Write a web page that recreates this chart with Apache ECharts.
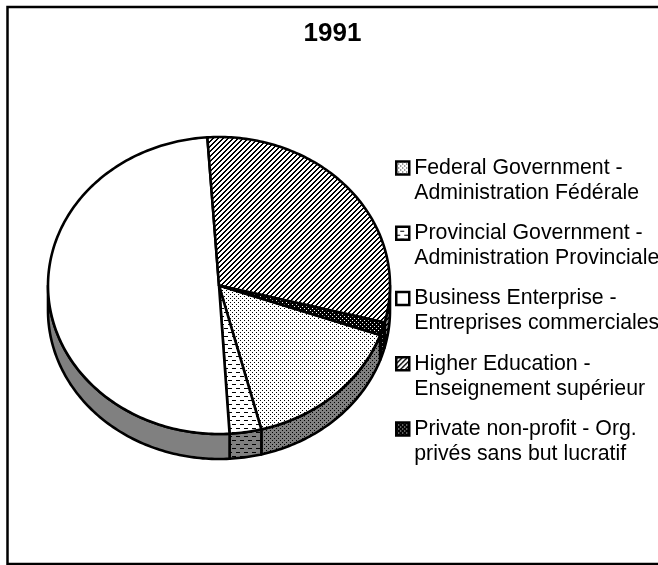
<!DOCTYPE html>
<html><head><meta charset="utf-8">
<style>html,body{margin:0;padding:0;background:#fff;overflow:hidden}#c{width:658px;height:565px}</style>
<script src="https://cdn.jsdelivr.net/npm/echarts@6/dist/echarts.min.js"></script>
</head><body><div id="c"></div>
<script>
const chartTitle = '1991';
const categories = ['Federal Government', 'Provincial Government', 'Business Enterprise', 'Higher Education', 'Private non-profit'];
const legendLine1 = ['Federal Government -', 'Provincial Government -', 'Business Enterprise -', 'Higher Education -', 'Private non-profit - Org.'];
const legendLine2 = ['Administration Fédérale', 'Administration Provinciale', 'Entreprises commerciales', 'Enseignement supérieur', 'privés sans but lucratif'];
const values = [15.6, 3.0, 49.9, 30.1, 1.4];
const startDeg = 19.5;

const CX = 219, CY = 285.5, RX = 171, RY = 148.5, DEPTH = 25, LW = 2.6;

function tile(w, h, bg, cells) {
  const c = document.createElement('canvas'); c.width = w; c.height = h;
  const g = c.getContext('2d'); g.fillStyle = bg; g.fillRect(0, 0, w, h);
  g.fillStyle = '#000';
  for (let y = 0; y < h; y++) for (let x = 0; x < w; x++) if (cells(x, y)) g.fillRect(x, y, 1, 1);
  return { image: c, repeat: 'repeat' };
}
const cellFns = [
  (x, y) => (x % 4 === 0 && y % 4 === 0) || (x % 4 === 2 && y % 4 === 2),
  (x, y) => (y === 0 && x < 4) || (y === 4 && x >= 4),
  () => false,
  (x, y) => (x + y) % 5 < 2,
  (x, y) => !((x % 4 === 0 && y % 4 === 0) || (x % 4 === 2 && y % 4 === 2))
];
const sizes = [[4, 4], [8, 8], [1, 1], [5, 5], [4, 4]];
const topFill = cellFns.map((f, i) => tile(sizes[i][0], sizes[i][1], '#fff', f));
const sideFill = cellFns.map((f, i) => tile(sizes[i][0], sizes[i][1], '#808080', f));

const total = values.reduce((a, b) => a + b, 0);
const spans = [];
values.reduce((acc, v) => { const d = v / total * 360; spans.push([acc, acc + d]); return acc + d; }, startDeg);

function pt(deg, dy) {
  const a = deg * Math.PI / 180;
  return [CX + RX * Math.cos(a), CY + (dy || 0) + RY * Math.sin(a)];
}
function arcPts(a, b, dy) {
  const pts = [], n = Math.max(2, Math.ceil(Math.abs(b - a)));
  for (let i = 0; i <= n; i++) pts.push(pt(a + (b - a) * i / n, dy));
  return pts;
}
const strokeStyle = { stroke: '#000', lineWidth: LW, lineJoin: 'round' };

function sideRender(params) {
  const i = params.dataIndex, kids = [];
  [0, 360].forEach(off => {
    const a = Math.max(spans[i][0], off), b = Math.min(spans[i][1], off + 180);
    if (b > a) kids.push({
      type: 'polygon',
      shape: { points: arcPts(a, b, 0).concat(arcPts(b, a, DEPTH)) },
      style: Object.assign({ fill: sideFill[i] }, strokeStyle)
    });
  });
  return { type: 'group', children: kids };
}
function topRender(i) {
  return function () {
    return {
      type: 'polygon',
      shape: { points: [[CX, CY]].concat(arcPts(spans[i][0], spans[i][1], 0)) },
      style: Object.assign({ fill: topFill[i] }, strokeStyle)
    };
  };
}

const series = [{
  type: 'custom', name: 'sides', coordinateSystem: 'none', silent: true, animation: false, z: 2,
  data: values, renderItem: sideRender
}].concat(categories.map((name, i) => ({
  type: 'custom', name, coordinateSystem: 'none', silent: true, animation: false, z: 3,
  itemStyle: { color: topFill[i] },
  data: [values[i]], renderItem: topRender(i)
})));

const chart = echarts.init(document.getElementById('c'), null, { renderer: 'canvas' });
chart.setOption({
  animation: false,
  backgroundColor: '#fff',
  title: { text: chartTitle, left: 327.5, top: 16, textAlign: 'center',
    textStyle: { fontFamily: 'Liberation Sans', fontWeight: 'bold', fontSize: 26, color: '#000' } },
  legend: {
    orient: 'vertical', left: 395, top: 129.5, padding: 0, itemGap: -11.75,
    itemWidth: 13, itemHeight: 13, selectedMode: false,
    icon: 'rect',
    textStyle: { fontFamily: 'Liberation Sans', fontSize: 21.3, lineHeight: 25, color: '#000', padding: [2, 0, 0, 0] },
    data: categories.map((name, i) => ({ name, itemStyle: { color: topFill[i], borderColor: '#000', borderWidth: 2.5 } })),
    formatter: name => { const i = categories.indexOf(name); return '\n' + legendLine1[i] + '\n' + legendLine2[i]; }
  },
  graphic: [{ type: 'polyline', silent: true, z: 1,
    shape: { points: [[700, 7], [7.5, 7], [7.5, 564], [700, 564]] },
    style: { stroke: '#000', lineWidth: 2.5, fill: null } }],
  series
});
</script></body></html>
